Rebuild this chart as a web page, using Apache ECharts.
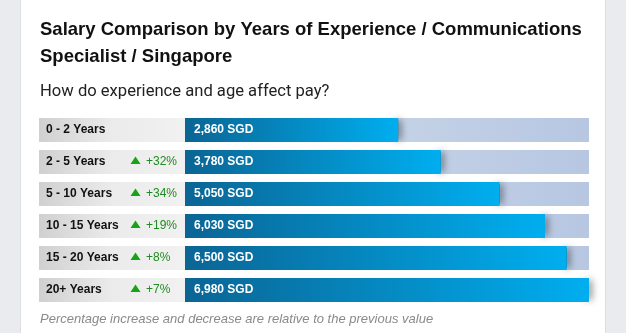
<!DOCTYPE html>
<html>
<head>
<meta charset="utf-8">
<script src="https://cdn.jsdelivr.net/npm/echarts@6/dist/echarts.min.js"></script>
<style>
html,body{margin:0;padding:0;background:#e9ebee;}
#chart{width:626px;height:333px;}
</style>
</head>
<body>
<div id="chart"></div>
<script>
const categories = ['0 - 2 Years','2 - 5 Years','5 - 10 Years','10 - 15 Years','15 - 20 Years','20+ Years'];
const salaries = [2860, 3780, 5050, 6030, 6500, 6980];
const changes = ['', '+32%', '+34%', '+19%', '+8%', '+7%'];
const currency = 'SGD';
const titleText = 'Salary Comparison by Years of Experience / Communications\nSpecialist / Singapore';
const subtitleText = 'How do experience and age affect pay?';
const footerText = 'Percentage increase and decrease are relative to the previous value';

const AXIS_MAX = 6980;
const AXIS_MIN = -AXIS_MAX / 4;

const chart = echarts.init(document.getElementById('chart'));

function renderItem(params, api) {
  const i = api.value(1);
  const v = api.value(0);
  const p0 = api.coord([AXIS_MIN, i]);
  const p1 = api.coord([v, i]);
  const pm = api.coord([AXIS_MAX, i]);
  const h = 24;
  const y = p0[1] - h / 2;
  const c = p0[1];
  const x0 = p0[0];
  const children = [];
  children.push({
    type: 'rect',
    shape: { x: x0 - 146, y: y, width: 146, height: h },
    style: { fill: new echarts.graphic.LinearGradient(0, 0, 1, 0, [
      { offset: 0, color: '#d0d0d0' }, { offset: 0.5, color: '#ebebeb' }, { offset: 1, color: '#f1f1f1' }]) }
  });
  children.push({
    type: 'text',
    style: { x: x0 - 139, y: c, text: categories[i], fill: '#111', font: 'bold 12px "Liberation Sans", Arial, sans-serif', verticalAlign: 'middle' }
  });
  if (changes[i]) {
    children.push({
      type: 'polygon',
      shape: { points: [[x0 - 49.5, c - 5.5], [x0 - 54.5, c + 2], [x0 - 44.5, c + 2]] },
      style: { fill: '#17a317' }
    });
    children.push({
      type: 'text',
      style: { x: x0 - 39, y: c, text: changes[i], fill: '#1f8c1f', font: '12px "Liberation Sans", Arial, sans-serif', verticalAlign: 'middle' }
    });
  }
  children.push({
    type: 'rect',
    shape: { x: x0, y: y, width: pm[0] - x0, height: h },
    style: { fill: new echarts.graphic.LinearGradient(0, 0, 1, 0, [
      { offset: 0, color: '#d3deeb' }, { offset: 1, color: '#b7c7e2' }]) }
  });
  children.push({
    type: 'rect',
    shape: { x: p1[0] - 6, y: y + 2, width: 6, height: h - 4 },
    style: { fill: 'rgba(0,0,0,0.6)', shadowColor: 'rgba(0,0,0,0.75)', shadowBlur: 7, shadowOffsetX: 3 }
  });
  children.push({
    type: 'rect',
    shape: { x: x0, y: y, width: p1[0] - x0, height: h },
    style: { fill: new echarts.graphic.LinearGradient(0, 0, 1, 0, [
      { offset: 0, color: '#0a6595' }, { offset: 1, color: '#00aeef' }]) }
  });
  children.push({
    type: 'text',
    style: { x: x0 + 9, y: c, text: v.toLocaleString('en-US') + ' ' + currency, fill: '#fff', font: 'bold 12px "Liberation Sans", Arial, sans-serif', verticalAlign: 'middle' }
  });
  return { type: 'group', children: children };
}

chart.setOption({
  animation: false,
  backgroundColor: '#e9ebee',
  graphic: [
    { type: 'rect', z: -10, shape: { x: 20.5, y: -1, width: 585, height: 340 }, style: { fill: '#ffffff', stroke: '#dcdee2', lineWidth: 1 } },
    { type: 'text', left: 40, top: 313, style: { text: footerText, fill: '#8a8a8a', font: 'italic 13px "Liberation Sans", Arial, sans-serif' } }
  ],
  title: [
    { text: titleText, left: 35, top: 11, textStyle: { fontFamily: '"Liberation Sans", Arial, sans-serif', fontSize: 18.5, fontWeight: 'bold', color: '#111', lineHeight: 27 } },
    { text: subtitleText, left: 35, top: 78, textStyle: { fontFamily: 'Roboto', fontSize: 16.6, fontWeight: 'normal', color: '#222' } }
  ],
  grid: { left: 185, right: 37, top: 114, bottom: 27 },
  xAxis: { type: 'value', min: AXIS_MIN, max: AXIS_MAX, show: false },
  yAxis: { type: 'category', data: categories, inverse: true, show: false },
  series: [{
    type: 'custom',
    renderItem: renderItem,
    encode: { x: 0, y: 1 },
    data: salaries.map((s, i) => [s, i])
  }]
});
</script>
</body>
</html>
